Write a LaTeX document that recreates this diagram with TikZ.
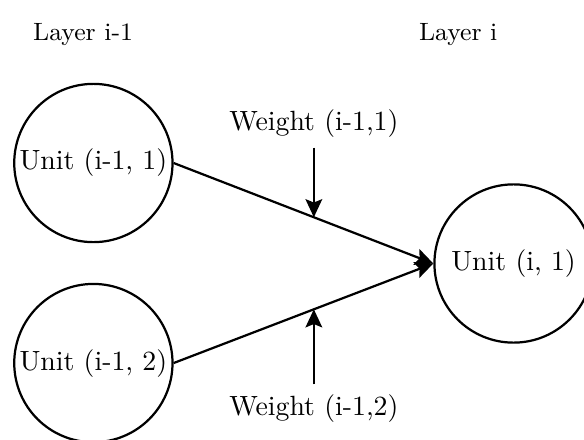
\documentclass[tikz,border=0pt]{standalone}
\usepackage{tikz}
\usetikzlibrary{positioning, arrows.meta}

\begin{document}
\begin{tikzpicture}[
    unit/.style={circle, draw, thick, minimum size=2cm, inner sep=0pt, align=center},
    layer/.style={font=\small},
    weight/.style={align=center},
    arrow/.style={-{Stealth[length=6.5pt, width=6pt, inset=1.2pt]}, thick}
]
    \useasboundingbox (0,0) rectangle (7.38,-5.55);

    \node[layer] (prev) at (1.05,-0.44) {Layer i-1};
    \node[layer] (curr) at (5.79,-0.44) {Layer i};

    \node[unit] (u1) at (1.18,-2.06) {Unit (i-1, 1)};
    \node[unit, below=0.5cm of u1] (u2) {Unit (i-1, 2)};
    \node[unit] (out) at (6.49,-3.33) {Unit (i, 1)};

    \draw[arrow] (u1.east) -- coordinate[pos=0.54] (m1) (out.west);
    \draw[arrow] (u2.east) -- coordinate[pos=0.54] (m2) (out.west);

    \node[weight, above=0.88cm of m1] (w1) {Weight (i-1,1)};
    \node[weight, below=0.95cm of m2] (w2) {Weight (i-1,2)};

    \draw[arrow] (w1) -- (m1);
    \draw[arrow] (w2) -- (m2);
\end{tikzpicture}
\end{document}
